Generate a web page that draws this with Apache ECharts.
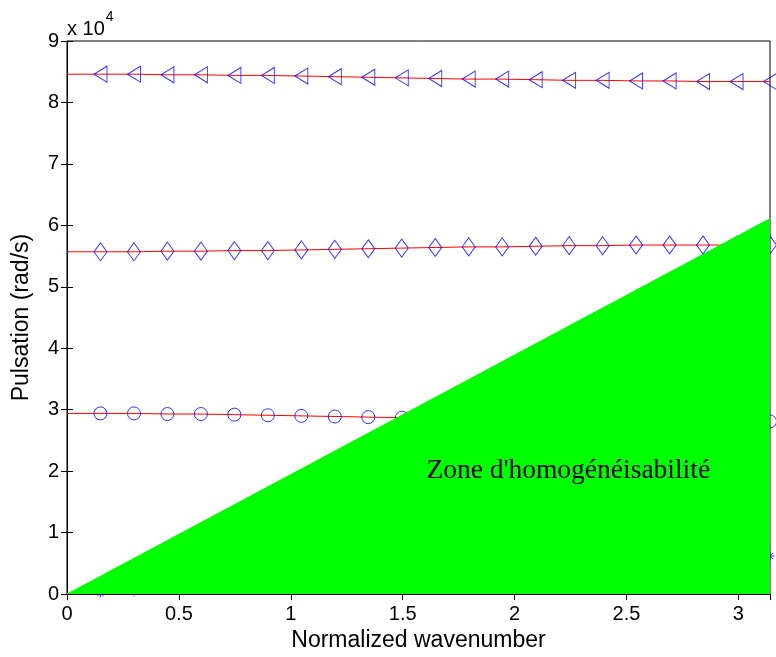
<!DOCTYPE html>
<html>
<head>
<meta charset="utf-8">
<script src="https://cdn.jsdelivr.net/npm/echarts@6/dist/echarts.min.js"></script>
<style>
html,body{margin:0;padding:0;background:#fff;}
#c{width:776px;height:657px;}
</style>
</head>
<body>
<div id="c"></div>
<script>
// Normalized wavenumber samples (0 .. pi, step pi/21)
const wavenumber = [0, 0.1496, 0.2992, 0.4488, 0.5984, 0.7480, 0.8976, 1.0472, 1.1968, 1.3464, 1.4960,
  1.6456, 1.7952, 1.9448, 2.0944, 2.2440, 2.3936, 2.5432, 2.6928, 2.8424, 2.9920, 3.1416];
// Pulsation (x 10^4 rad/s) for each branch
const branchAcoustic = [0, 0.02, 0.04, 0.10, 0.16, 0.21, 0.26, 0.30, 0.34, 0.38, 0.41,
  0.44, 0.47, 0.50, 0.52, 0.54, 0.56, 0.58, 0.59, 0.60, 0.61, 0.62];
const branchCircle = [2.94, 2.94, 2.94, 2.93, 2.93, 2.92, 2.91, 2.90, 2.89, 2.88, 2.87,
  2.86, 2.85, 2.84, 2.83, 2.83, 2.82, 2.82, 2.81, 2.81, 2.81, 2.81];
const branchDiamond = [5.57, 5.57, 5.57, 5.58, 5.58, 5.59, 5.59, 5.60, 5.61, 5.62, 5.63,
  5.64, 5.65, 5.65, 5.66, 5.67, 5.67, 5.68, 5.68, 5.68, 5.68, 5.68];
const branchTriangle = [8.46, 8.46, 8.46, 8.45, 8.45, 8.44, 8.44, 8.43, 8.42, 8.41, 8.40,
  8.39, 8.38, 8.38, 8.37, 8.36, 8.36, 8.35, 8.35, 8.34, 8.34, 8.34];
// Homogenisability zone boundary (triangle vertices)
const zoneX = [0, 3.1416];
const zoneY = [0, 6.11];
const zoneLabel = "Zone d'homogénéisabilité";
const zoneLabelPos = [2.24, 2.0];
const xTicks = [0, 0.5, 1, 1.5, 2, 2.5, 3];
const yTicks = [0, 1, 2, 3, 4, 5, 6, 7, 8, 9];

const pairs = (xs, ys) => xs.map((x, i) => [x, ys[i]]);
const markerPts = ys => pairs(wavenumber, ys).slice(1);

const font = 'Liberation Sans, Arial, Helvetica, sans-serif';
const chart = echarts.init(document.getElementById('c'), null, {renderer: 'canvas'});

const triLeft = 'path://M12,0 L12,16 L0,8 Z';
const asterisk = 'path://M5,0 L5,10 M0,5 L10,5 M1.5,1.5 L8.5,8.5 M8.5,1.5 L1.5,8.5';

function redLine(ys) {
  return {type: 'line', data: pairs(wavenumber, ys), showSymbol: false, symbol: 'none',
    lineStyle: {color: '#ff0000', width: 1}, z: 2, silent: true, animation: false};
}
function markers(ys, sym, size) {
  return {type: 'scatter', data: markerPts(ys), symbol: sym, symbolSize: size,
    itemStyle: {color: 'none', borderColor: '#0000ff', borderWidth: 1}, z: 2, animation: false};
}

const xMin = xTicks[0], xMax = zoneX[1];
const axisCommon = {
  axisLine: {show: true, lineStyle: {color: '#000', width: 1}},
  splitLine: {show: false}
};

chart.setOption({
  animation: false,
  backgroundColor: '#fff',
  grid: {left: 67, right: 6, top: 41, bottom: 61, show: true, borderColor: '#000', borderWidth: 1, backgroundColor: 'transparent'},
  xAxis: [
    Object.assign({}, axisCommon, {
      type: 'value', min: xMin, max: xMax, interval: 0.5, position: 'bottom',
      axisTick: {show: true, inside: true, length: 6, lineStyle: {color: '#000'}},
      axisLabel: {color: '#000', fontSize: 20, fontFamily: font, margin: 10, showMaxLabel: false,
        formatter: v => xTicks.includes(+v.toFixed(4)) ? String(+v.toFixed(4)) : ''},
      name: 'Normalized wavenumber', nameLocation: 'middle', nameGap: 28,
      nameTextStyle: {color: '#000', fontSize: 23, fontFamily: font}
    }),
    Object.assign({}, axisCommon, {
      type: 'value', min: xMin, max: xMax, interval: 0.5, position: 'top',
      axisTick: {show: true, inside: true, length: 6, lineStyle: {color: '#000'}},
      axisLabel: {show: false}
    })
  ],
  yAxis: [
    Object.assign({}, axisCommon, {
      type: 'value', min: yTicks[0], max: yTicks[yTicks.length - 1], interval: 1, position: 'left',
      axisTick: {show: true, inside: true, length: 6, lineStyle: {color: '#000'}},
      axisLabel: {color: '#000', fontSize: 20, fontFamily: font, margin: 8},
      name: 'Pulsation (rad/s)', nameLocation: 'middle', nameGap: 34, nameRotate: 90,
      nameTextStyle: {color: '#000', fontSize: 23, fontFamily: font}
    }),
    Object.assign({}, axisCommon, {
      type: 'value', min: yTicks[0], max: yTicks[yTicks.length - 1], interval: 1, position: 'right',
      axisTick: {show: true, inside: true, length: 6, lineStyle: {color: '#000'}},
      axisLabel: {show: false}
    })
  ],
  series: [
    redLine(branchAcoustic), markers(branchAcoustic, asterisk, 9),
    redLine(branchCircle), markers(branchCircle, 'circle', 13),
    redLine(branchDiamond), markers(branchDiamond, 'diamond', [13, 18]),
    redLine(branchTriangle), markers(branchTriangle, triLeft, [13, 16]),
    {type: 'line', data: pairs(zoneX, zoneY), symbol: 'none', showSymbol: false, clip: false,
      lineStyle: {color: '#00ff00', width: 1}, areaStyle: {color: '#00ff00', opacity: 1}, z: 5, silent: true}
  ]
});

const lp = chart.convertToPixel({xAxisIndex: 0, yAxisIndex: 0}, zoneLabelPos);
chart.setOption({
  graphic: [
    {type: 'text', left: 67, top: 10, z: 10,
      style: {text: '{a|x 10}{b|4}', rich: {
        a: {fontSize: 20, fontFamily: font, fill: '#000', padding: [9, 0, 0, 0]},
        b: {fontSize: 14, fontFamily: font, fill: '#000', verticalAlign: 'top', padding: [0, 0, 12, 1]}}}},
    {type: 'text', x: lp[0], y: lp[1], z: 10,
      style: {text: zoneLabel, fontSize: 27.5, fontFamily: 'Liberation Serif, Times New Roman, serif', fill: '#000',
        align: 'center', verticalAlign: 'middle'}}
  ]
});
</script>
</body>
</html>
